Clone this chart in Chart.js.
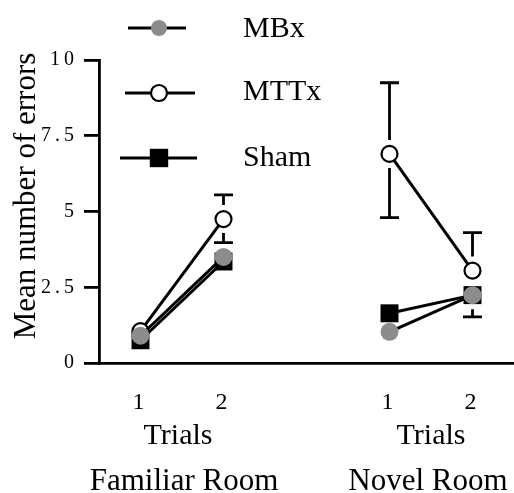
<!DOCTYPE html>
<html><head><meta charset="utf-8">
<script src="https://cdn.jsdelivr.net/npm/chart.js@4.4.0/dist/chart.umd.min.js"></script>
<style>html,body{margin:0;padding:0;background:#fff}#wrap{width:514px;height:493px}</style>
</head><body><div id="wrap"><canvas id="c" width="514" height="493"></canvas></div>
<script>
// ---- data ----
const trialPositions = [1, 2, 4, 5];
const xTickLabels = ['1', '2', '1', '2'];
const groupLabels = ['Familiar Room', 'Novel Room'];
const trialAxisLabel = 'Trials';
const yAxisLabel = 'Mean number of errors';
const yTickValues = [0, 2.5, 5, 7.5, 10];
const yTickLabels = ['0', '2.5', '5', '7.5', '10'];
const seriesNames = ['MBx', 'MTTx', 'Sham'];
const mbxMeans  = [0.9, 3.5, 1.03, 2.24];
const mttxMeans = [1.05, 4.75, 6.9, 3.05];
const shamMeans = [0.75, 3.35, 1.64, 2.24];
const mbxErrUp    = [null, null, null, null];
const mbxErrDown  = [null, null, null, null];
const mttxErrUp   = [null, 0.8, 2.35, 1.25];
const mttxErrDown = [null, 0.78, 2.1, null];
const shamErrUp   = [null, null, null, null];
const shamErrDown = [null, null, null, 0.72];

const FONT = '"Liberation Serif", "Times New Roman", serif';
const GRAY = '#8c8c8c';
const LS_OK = typeof CanvasRenderingContext2D !== 'undefined' && ('letterSpacing' in CanvasRenderingContext2D.prototype);
const Y_SPACING = 4;
const Y_FONT_SIZE = 20;

function buildPoints(means) {
  const pts = [];
  means.forEach((m, i) => {
    pts.push({x: trialPositions[i], y: m});
    if (i === 1) pts.push({x: (trialPositions[1] + trialPositions[2]) / 2, y: null});
  });
  return pts;
}

const styles = [
  {fill: GRAY, border: GRAY, bw: 0, shape: 'circle', r: 9, lr: 8},
  {fill: '#fff', border: '#000', bw: 2.2, shape: 'circle', r: 8, lr: 8},
  {fill: '#000', border: '#000', bw: 0, shape: 'rect', r: 12.7, lr: 13}
];
const meansList = [mbxMeans, mttxMeans, shamMeans];
const errUpList = [mbxErrUp, mttxErrUp, shamErrUp];
const errDownList = [mbxErrDown, mttxErrDown, shamErrDown];

const datasets = seriesNames.map((name, k) => ({
  label: name,
  data: buildPoints(meansList[k]),
  borderColor: '#000',
  borderWidth: 3,
  backgroundColor: styles[k].fill,
  pointBackgroundColor: styles[k].fill,
  pointBorderColor: styles[k].border,
  pointBorderWidth: styles[k].bw,
  pointStyle: styles[k].shape,
  pointRadius: styles[k].r,
  spanGaps: false,
  tension: 0,
  clip: false
}));

const extras = {
  id: 'extras',
  beforeDraw(chart) { if (LS_OK) chart.ctx.letterSpacing = Y_SPACING + 'px'; },
  beforeDatasetsDraw(chart) { if (LS_OK) chart.ctx.letterSpacing = '0px'; },
  afterDatasetsDraw(chart) {
    const ctx = chart.ctx;
    const xs = chart.scales.x, ys = chart.scales.y;
    ctx.save();
    ctx.strokeStyle = '#000';
    ctx.lineWidth = 2.8;
    const gap = 14, cap = 9.5;
    seriesNames.forEach((n, k) => {
      meansList[k].forEach((m, i) => {
        const px = xs.getPixelForValue(trialPositions[i]);
        const py = ys.getPixelForValue(m);
        const up = errUpList[k][i], dn = errDownList[k][i];
        if (up != null) {
          const ty = ys.getPixelForValue(m + up);
          ctx.beginPath(); ctx.moveTo(px, py - gap); ctx.lineTo(px, ty);
          ctx.moveTo(px - cap, ty); ctx.lineTo(px + cap, ty); ctx.stroke();
        }
        if (dn != null) {
          const by = ys.getPixelForValue(m - dn);
          ctx.beginPath(); ctx.moveTo(px, py + gap); ctx.lineTo(px, by);
          ctx.moveTo(px - cap, by); ctx.lineTo(px + cap, by); ctx.stroke();
        }
      });
    });
    ctx.restore();
  },
  afterDraw(chart) {
    const ctx = chart.ctx;
    const xs = chart.scales.x, ys = chart.scales.y;
    ctx.save();
    if (LS_OK) ctx.letterSpacing = '0px';
    ctx.fillStyle = '#000';
    // fallback y tick labels with spacing when canvas letterSpacing is unavailable
    if (!LS_OK) {
      ctx.font = Y_FONT_SIZE + 'px ' + FONT;
      ctx.textBaseline = 'middle';
      ctx.textAlign = 'left';
      yTickValues.forEach((v, i) => {
        const label = yTickLabels[i];
        const py = ys.getPixelForValue(v);
        let w = 0;
        for (const ch of label) w += ctx.measureText(ch).width;
        w += Y_SPACING * (label.length - 1);
        let x = 75 - w;
        for (const ch of label) { ctx.fillText(ch, x, py); x += ctx.measureText(ch).width + Y_SPACING; }
      });
    }
    // y title
    ctx.save();
    ctx.translate(35, 196);
    ctx.rotate(-Math.PI / 2);
    ctx.font = '31px ' + FONT;
    ctx.textAlign = 'center';
    ctx.textBaseline = 'alphabetic';
    ctx.fillText(yAxisLabel, 0, 0);
    ctx.restore();
    // group labels
    ctx.textAlign = 'center';
    ctx.textBaseline = 'alphabetic';
    for (let g = 0; g < 2; g++) {
      const mid = (xs.getPixelForValue(trialPositions[2 * g]) + xs.getPixelForValue(trialPositions[2 * g + 1])) / 2;
      ctx.font = '30px ' + FONT;
      ctx.fillText(trialAxisLabel, mid - (g === 0 ? 4 : 0), 444);
      ctx.font = '31px ' + FONT;
      ctx.fillText(groupLabels[g], mid + (g === 0 ? 2 : -3), 490);
    }
    // legend
    const leg = [
      {y: 28, x0: 128, x1: 186, tb: 37},
      {y: 93, x0: 125, x1: 195, tb: 100},
      {y: 158, x0: 120, x1: 197, tb: 166}
    ];
    const mx = 159;
    seriesNames.forEach((n, k) => {
      const L = leg[k];
      ctx.strokeStyle = '#000';
      ctx.lineWidth = 3;
      ctx.beginPath(); ctx.moveTo(L.x0, L.y); ctx.lineTo(L.x1, L.y); ctx.stroke();
      const s = styles[k];
      ctx.fillStyle = s.fill;
      if (s.shape === 'circle') {
        ctx.beginPath(); ctx.arc(mx, L.y, s.lr, 0, Math.PI * 2); ctx.fill();
        if (s.bw) { ctx.lineWidth = s.bw; ctx.strokeStyle = s.border; ctx.stroke(); }
      } else {
        const h = s.lr * Math.SQRT1_2;
        ctx.fillRect(mx - h, L.y - h, 2 * h, 2 * h);
      }
      ctx.fillStyle = '#000';
      ctx.font = '30px ' + FONT;
      ctx.textAlign = 'left';
      ctx.fillText(n, 243, L.tb);
    });
    ctx.restore();
  }
};

new Chart(document.getElementById('c'), {
  type: 'line',
  data: {datasets},
  plugins: [extras],
  options: {
    responsive: false,
    animation: false,
    events: [],
    layout: {autoPadding: false, padding: {top: 60, left: 0, right: 0, bottom: 0}},
    plugins: {legend: {display: false}, tooltip: {enabled: false}},
    scales: {
      x: {
        type: 'linear', min: 0.5, max: 5.5,
        afterBuildTicks: s => { s.ticks = trialPositions.map(v => ({value: v})); },
        ticks: {
          callback: (v, i) => xTickLabels[i],
          font: {family: FONT, size: 24}, color: '#000', padding: 25,
          maxRotation: 0, autoSkip: false
        },
        grid: {display: false, drawTicks: false},
        border: {display: true, color: '#000', width: 2.8},
        afterFit: s => { s.height = 130; s.paddingLeft = 0; s.paddingRight = 0; }
      },
      y: {
        min: 0, max: 10,
        afterBuildTicks: s => { s.ticks = yTickValues.map(v => ({value: v})); },
        ticks: {
          display: LS_OK,
          callback: (v, i) => yTickLabels[i],
          font: {family: FONT, size: Y_FONT_SIZE}, color: '#000', padding: 6, autoSkip: false
        },
        grid: {drawOnChartArea: false, drawTicks: true, tickLength: 15, color: '#000', lineWidth: 2.8},
        border: {display: true, color: '#000', width: 2.8},
        afterFit: s => { s.width = 99; s.paddingTop = 0; s.paddingBottom = 0; }
      }
    }
  }
});
</script>
</body></html>
